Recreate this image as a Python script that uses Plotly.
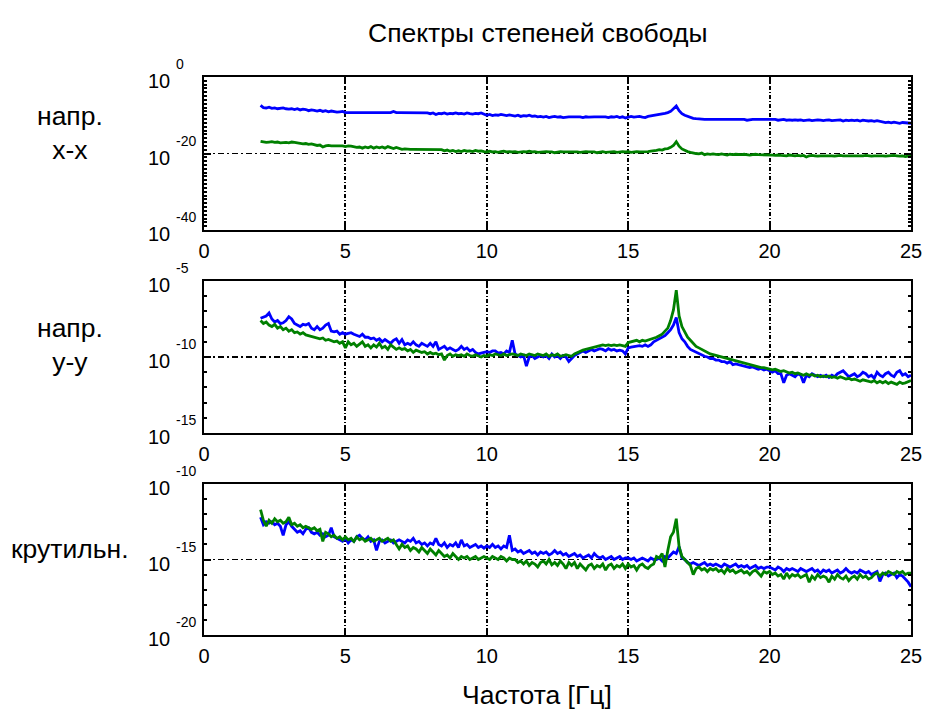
import numpy as np
import plotly.graph_objects as go
from plotly.subplots import make_subplots

# frequency grid [Hz]
freq = [round(2.0 + 0.1 * i, 1) for i in range(231)]

# log10 of spectral values
top_blue = [
    -7.4, -8.0, -8.1, -7.9, -8.2, -8.1, -8.3, -8.2, -8.1, -8.3,
    -8.4, -8.3, -8.5, -8.3, -8.6, -8.4, -8.5, -8.8, -8.6, -8.7,
    -8.9, -8.7, -9.0, -8.8, -9.1, -8.9, -9.0, -9.2, -9.1, -9.0,
    -9.3, -9.3, -9.2, -9.3, -9.3, -9.2, -9.3, -9.3, -9.3, -9.2,
    -9.3, -9.3, -9.3, -9.3, -9.3, -9.3, -9.3, -9.0, -9.3, -9.3,
    -9.3, -9.3, -9.3, -9.4, -9.4, -9.4, -9.4, -9.4, -9.4, -9.4,
    -9.6, -9.4, -9.8, -9.5, -9.6, -9.4, -9.7, -9.5, -9.6, -9.4,
    -9.6, -9.5, -9.7, -9.4, -9.6, -9.7, -9.5, -9.6, -9.4, -9.6,
    -10.0, -9.8, -10.1, -9.9, -10.0, -9.8, -10.0, -10.1, -9.9, -10.0,
    -10.2, -10.0, -10.3, -10.1, -10.2, -10.0, -10.3, -10.2, -10.4, -10.3,
    -10.5, -10.3, -10.6, -10.4, -10.3, -10.5, -10.4, -10.6, -10.4, -10.4,
    -10.4, -10.4, -10.4, -10.4, -10.6, -10.4, -10.5, -10.4, -10.4, -10.4,
    -10.4, -10.5, -10.4, -10.6, -10.4, -10.5, -10.3, -10.6, -10.4, -10.7,
    -10.5, -10.3, -10.5, -10.4, -10.3, -10.5, -10.6, -10.3, -10.2, -10.1,
    -10.0, -9.8, -9.7, -9.5, -9.3, -9.0, -8.3, -7.6, -8.8, -9.6,
    -10.0, -10.3, -10.6, -10.8, -10.9, -11.0, -11.1, -11.1, -11.1, -11.1,
    -11.1, -11.1, -11.1, -11.1, -11.1, -11.1, -11.1, -11.1, -11.1, -11.1,
    -11.1, -11.1, -11.3, -11.1, -11.1, -11.1, -11.1, -11.1, -11.1, -11.1,
    -11.1, -11.2, -11.1, -11.3, -11.2, -11.1, -11.3, -11.2, -11.3, -11.2,
    -11.3, -11.2, -11.4, -11.3, -11.2, -11.4, -11.3, -11.2, -11.3, -11.4,
    -11.3, -11.2, -11.4, -11.3, -11.3, -11.2, -11.5, -11.3, -11.4, -11.3,
    -11.4, -11.3, -11.5, -11.3, -11.4, -11.5, -11.4, -11.6, -11.4, -11.6,
    -11.7, -11.9, -11.8, -12.0, -11.8, -11.9, -12.1, -11.9, -12.0, -12.1,
    -12.1,
]
top_green = [
    -16.8, -17.0, -17.1, -17.0, -16.9, -17.1, -17.0, -17.2, -17.1, -17.1,
    -17.2, -17.0, -17.1, -17.3, -17.3, -17.5, -17.4, -17.6, -17.5, -17.7,
    -17.9, -17.8, -18.3, -18.0, -17.9, -18.0, -18.0, -18.1, -18.0, -18.0,
    -18.2, -18.0, -18.1, -18.2, -18.4, -18.3, -18.6, -18.3, -18.5, -18.2,
    -18.6, -18.3, -18.5, -18.3, -18.6, -18.2, -18.5, -18.7, -18.4, -18.6,
    -18.9, -18.8, -18.9, -18.9, -18.9, -18.9, -18.9, -18.9, -18.9, -18.9,
    -18.9, -18.9, -18.9, -19.0, -19.0, -19.3, -19.1, -19.4, -19.2, -19.5,
    -19.3, -19.5, -19.2, -19.4, -19.3, -19.5, -19.2, -19.4, -19.3, -19.5,
    -19.6, -19.4, -19.6, -19.5, -19.7, -19.5, -19.4, -19.6, -19.5, -19.6,
    -19.5, -19.7, -19.6, -19.5, -19.6, -19.4, -19.6, -19.5, -19.7, -19.6,
    -19.6, -19.5, -19.6, -19.6, -19.8, -19.6, -19.5, -19.6, -19.6, -19.5,
    -19.6, -19.6, -19.6, -19.7, -19.6, -19.5, -19.6, -19.6, -19.6, -19.8,
    -19.6, -19.5, -19.7, -19.6, -19.6, -19.5, -19.7, -19.6, -19.5, -19.6,
    -19.5, -19.7, -19.6, -19.5, -19.6, -19.6, -19.5, -19.5, -19.4, -19.2,
    -19.2, -19.0, -19.1, -18.8, -18.7, -18.4, -17.9, -16.9, -18.1, -18.8,
    -19.2, -19.5, -19.7, -19.9, -20.0, -20.1, -19.9, -20.3, -20.1, -20.2,
    -20.1, -20.2, -20.3, -20.1, -20.2, -20.4, -20.2, -20.3, -20.2, -20.3,
    -20.3, -20.2, -20.3, -20.4, -20.3, -20.2, -20.3, -20.3, -20.4, -20.3,
    -20.4, -20.4, -20.5, -20.4, -20.5, -20.5, -20.6, -20.4, -20.5, -20.6,
    -20.5, -20.6, -20.5, -20.9, -20.6, -20.5, -20.6, -20.7, -20.6, -20.6,
    -20.6, -20.5, -20.6, -20.7, -20.6, -20.5, -20.6, -20.6, -20.7, -20.6,
    -20.6, -20.7, -20.6, -20.6, -20.5, -20.6, -20.7, -20.6, -20.6, -20.5,
    -20.6, -20.7, -20.6, -20.6, -20.5, -20.6, -20.7, -20.6, -20.8, -20.7,
    -20.7,
]
mid_blue = [
    -7.45, -7.4, -7.3, -7.1, -7.5, -7.7, -7.6, -7.8, -7.75, -7.6,
    -7.35, -7.5, -7.8, -7.9, -8.0, -7.85, -7.9, -7.8, -8.1, -8.2,
    -8.0, -8.2, -8.1, -7.9, -7.8, -8.3, -8.35, -8.3, -8.5, -8.4,
    -8.5, -8.45, -8.4, -8.5, -8.6, -8.65, -8.5, -8.7, -8.7, -8.8,
    -8.75, -8.9, -8.8, -9.0, -8.85, -8.95, -9.1, -8.9, -8.8, -9.1,
    -8.85, -9.2, -9.1, -9.2, -9.0, -9.2, -9.3, -9.1, -9.2, -9.3,
    -9.1, -9.3, -9.0, -9.5, -9.4, -9.3, -9.5, -9.4, -9.5, -9.6,
    -9.5, -9.3, -9.5, -9.4, -9.6, -9.5, -9.7, -9.8, -9.75, -9.7,
    -9.65, -9.7, -9.6, -9.6, -9.75, -9.7, -9.8, -9.6, -9.7, -8.9,
    -9.8, -9.9, -10.0, -9.9, -10.6, -10.0, -9.9, -10.1, -10.0, -9.9,
    -10.0, -9.9, -10.1, -9.8, -10.0, -9.9, -10.1, -9.9, -10.0, -10.3,
    -10.1, -9.9, -9.8, -9.7, -9.6, -9.7, -9.6, -9.5, -9.6, -9.5,
    -9.45, -9.5, -9.6, -9.45, -9.55, -9.5, -9.6, -9.55, -9.6, -9.8,
    -9.4, -9.35, -9.3, -9.3, -9.25, -9.3, -9.2, -9.3, -9.2, -9.0,
    -8.9, -8.8, -8.7, -8.6, -8.4, -8.2, -7.9, -7.4, -8.4, -8.8,
    -9.0, -9.3, -9.5, -9.6, -9.7, -9.8, -9.9, -9.95, -10.0, -10.1,
    -10.1, -10.2, -10.2, -10.3, -10.3, -10.4, -10.3, -10.5, -10.45, -10.5,
    -10.55, -10.6, -10.6, -10.7, -10.65, -10.7, -10.8, -10.75, -10.85, -10.8,
    -10.9, -11.0, -10.9, -11.1, -11.1, -11.7, -11.2, -11.1, -11.2, -11.3,
    -11.1, -11.2, -11.7, -11.2, -11.3, -11.1, -11.2, -11.3, -11.2, -11.3,
    -11.2, -11.35, -11.2, -11.3, -11.1, -11.0, -10.9, -11.1, -11.3, -11.2,
    -11.1, -11.3, -11.2, -11.0, -11.1, -11.3, -11.2, -11.4, -11.0, -11.2,
    -11.3, -11.1, -11.0, -11.2, -11.3, -11.0, -10.9, -11.2, -11.1, -11.3,
    -11.2,
]
mid_green = [
    -7.6, -7.8, -7.7, -7.9, -8.0, -7.85, -8.1, -8.0, -8.2, -8.1,
    -8.3, -8.2, -8.4, -8.35, -8.5, -8.4, -8.55, -8.6, -8.65, -8.7,
    -8.7, -8.8, -8.75, -8.9, -8.85, -8.9, -9.0, -8.95, -9.1, -9.0,
    -9.4, -9.0, -9.2, -9.1, -9.3, -9.15, -9.0, -9.3, -9.2, -9.4,
    -9.2, -9.35, -9.1, -9.4, -9.3, -9.5, -9.2, -9.35, -9.5, -9.4,
    -9.5, -9.45, -9.6, -9.5, -9.7, -9.55, -9.6, -9.7, -9.65, -9.8,
    -9.7, -9.8, -9.75, -9.85, -9.8, -10.2, -9.9, -9.8, -9.95, -9.85,
    -9.9, -9.85, -9.95, -9.8, -9.9, -9.95, -9.85, -9.9, -10.0, -9.9,
    -9.95, -9.85, -9.9, -9.8, -9.85, -9.9, -9.8, -9.9, -9.85, -9.8,
    -9.85, -9.9, -9.8, -9.85, -9.9, -9.8, -9.85, -9.9, -9.8, -9.85,
    -9.9, -9.8, -9.95, -9.85, -9.9, -9.8, -9.95, -9.9, -9.85, -9.9,
    -9.95, -9.8, -9.7, -9.6, -9.55, -9.5, -9.45, -9.4, -9.35, -9.3,
    -9.25, -9.2, -9.25, -9.2, -9.25, -9.2, -9.25, -9.2, -9.25, -9.3,
    -9.05, -9.0, -8.95, -8.9, -9.0, -8.9, -8.95, -8.9, -8.8, -8.75,
    -8.7, -8.6, -8.5, -8.3, -8.1, -7.6, -6.9, -5.6, -7.3, -8.0,
    -8.4, -8.7, -8.9, -9.1, -9.3, -9.4, -9.5, -9.6, -9.75, -9.8,
    -9.85, -9.9, -9.95, -10.0, -10.1, -10.15, -10.2, -10.25, -10.3, -10.35,
    -10.4, -10.45, -10.5, -10.5, -10.55, -10.6, -10.65, -10.7, -10.7, -10.75,
    -10.8, -10.85, -10.8, -10.9, -10.95, -10.9, -11.0, -11.05, -11.0, -11.1,
    -11.05, -11.1, -11.2, -11.1, -11.2, -11.15, -11.25, -11.2, -11.3, -11.25,
    -11.3, -11.25, -11.35, -11.3, -11.4, -11.3, -11.35, -11.45, -11.4, -11.5,
    -11.45, -11.5, -11.6, -11.5, -11.55, -11.6, -11.65, -11.55, -11.7, -11.6,
    -11.7, -11.6, -11.75, -11.65, -11.7, -11.8, -11.65, -11.75, -11.7, -11.6,
    -11.55,
]
bot_blue = [
    -12.2, -12.7, -12.5, -12.6, -12.5, -12.7, -12.6, -12.8, -13.4, -12.7,
    -12.5, -12.8, -13.0, -13.2, -13.1, -13.3, -13.0, -12.9, -13.2, -13.3,
    -13.2, -13.4, -13.3, -13.5, -13.4, -12.9, -13.5, -13.6, -13.7, -13.8,
    -13.6, -13.9, -13.7, -13.8, -13.5, -13.4, -13.6, -13.7, -13.5, -13.8,
    -13.7, -14.4, -13.8, -13.7, -13.9, -13.8, -13.7, -13.9, -13.8, -13.7,
    -13.8, -13.9, -13.7, -13.8, -13.6, -13.9, -13.8, -14.0, -13.9, -14.1,
    -13.9, -14.0, -13.6, -14.0, -14.1, -13.9, -14.2, -14.0, -14.1, -13.9,
    -14.2, -13.7, -14.1, -14.0, -14.2, -14.1, -14.0, -14.2, -14.1, -14.25,
    -14.1, -14.2, -14.0, -14.2, -14.1, -14.3, -14.1, -14.2, -13.4, -14.4,
    -14.3, -14.5, -14.4, -14.6, -14.5, -14.4, -14.6, -14.5, -14.7, -14.5,
    -14.6, -14.5, -14.7, -14.6, -14.4, -14.6, -14.5, -14.7, -14.6, -14.8,
    -14.7, -14.6, -14.8, -14.7, -14.9, -14.8, -14.7, -14.9, -14.6, -14.8,
    -14.9, -14.8, -15.0, -14.9, -14.8, -15.0, -14.9, -14.8, -15.0, -14.9,
    -14.9, -15.0, -14.9, -15.1, -15.0, -14.9, -15.0, -15.1, -14.9, -15.0,
    -15.0, -14.9, -15.1, -14.8, -14.9, -14.7, -14.5, -14.6, -14.15, -14.9,
    -15.0, -15.2, -15.3, -15.2, -15.3, -15.4, -15.3, -15.2, -15.4, -15.3,
    -15.4, -15.3, -15.4, -15.5, -15.3, -15.4, -15.5, -15.4, -15.3, -15.5,
    -15.4, -15.5, -15.4, -15.6, -15.5, -15.4, -15.6, -15.5, -15.6, -15.5,
    -15.5, -15.6, -15.7, -15.5, -15.6, -15.8, -15.6, -15.7, -15.6, -15.7,
    -15.8, -15.6, -15.7, -15.8, -15.7, -15.6, -15.8, -15.7, -15.9, -15.7,
    -15.8, -15.7, -15.9, -15.8, -15.7, -15.9, -15.8, -15.6, -15.8, -15.9,
    -15.8, -15.9, -15.7, -15.8, -15.9, -15.8, -16.0, -15.9, -15.8, -16.45,
    -16.0, -15.9, -16.1, -16.0, -15.9, -16.2, -16.0, -16.1, -16.3, -16.5,
    -16.8,
]
bot_green = [
    -11.7, -12.4, -12.8, -12.4, -12.6, -12.3, -12.5, -12.4, -12.6, -12.5,
    -12.2, -12.7, -12.6, -12.8, -12.7, -12.9, -12.8, -12.9, -13.0, -12.9,
    -13.1, -13.0, -13.8, -13.2, -13.3, -13.5, -13.4, -13.6, -13.5, -13.7,
    -13.5, -13.7, -13.6, -13.8, -13.5, -13.7, -13.6, -13.8, -13.7, -13.6,
    -13.8, -13.7, -13.6, -13.8, -13.7, -13.6, -13.8, -13.7, -14.0, -14.3,
    -14.0, -14.2, -14.1, -14.4, -14.2, -14.3, -14.5, -14.2, -14.4, -14.6,
    -14.3, -14.5, -14.7, -14.4, -14.6, -14.8, -14.7, -14.9, -14.6, -14.8,
    -15.0, -14.8, -14.9, -14.8, -15.0, -14.9, -14.8, -15.0, -14.9, -14.8,
    -14.9, -15.0, -14.8, -14.9, -15.0, -14.8, -14.9, -15.1, -14.9, -15.0,
    -15.0, -15.2, -15.1, -15.3, -15.1, -15.4, -15.2, -15.3, -15.5, -15.2,
    -15.1, -15.3, -15.0, -15.35, -15.2, -15.4, -15.1, -15.3, -15.6, -15.2,
    -15.4, -15.2, -15.6, -15.3, -15.5, -15.7, -15.4, -15.3, -15.6, -15.4,
    -15.5, -15.3, -15.7, -15.4, -15.3, -15.6, -15.4, -15.5, -15.3, -15.6,
    -15.3, -15.5, -15.4, -15.7, -15.4, -15.3, -15.5, -15.6, -15.4, -15.3,
    -14.8, -14.9, -14.6, -15.5, -14.4, -13.5, -13.2, -12.3, -14.15, -14.8,
    -15.0, -15.2, -15.4, -16.0, -15.6, -15.5, -15.7, -15.6, -15.8, -15.6,
    -15.7, -15.6, -15.8, -15.7, -15.9, -15.6, -15.8, -15.7, -15.9, -15.8,
    -15.7, -15.9, -15.8, -16.0, -15.8, -15.7, -15.9, -16.1, -15.8, -15.9,
    -15.8, -16.0, -15.9, -16.1, -16.0, -16.3, -15.9, -16.2, -16.0, -16.1,
    -16.0, -16.2, -16.1, -16.0, -16.5, -16.1, -16.3, -16.0, -16.2, -16.1,
    -16.2, -16.5, -16.1, -16.3, -16.0, -16.2, -16.3, -16.1, -16.4, -16.2,
    -16.1, -16.3, -16.0, -16.2, -16.1, -16.3, -16.2, -16.0, -15.9, -16.1,
    -15.9, -16.0, -15.8, -15.9, -16.0, -15.8, -15.9, -15.8, -16.0, -15.9,
    -15.9,
]

x_ticks = [0, 5, 10, 15, 20, 25]
y_tick_exps = [[0, -20, -40], [-5, -10, -15], [-10, -15, -20]]
row_labels = ["напр.<br>x-x", "напр.<br>y-y", "крутильн."]
title_text = "Спектры степеней свободы"
x_title = "Частота [Гц]"

series = [(top_blue, top_green), (mid_blue, mid_green), (bot_blue, bot_green)]
BLUE = "#0000ff"
GREEN = "#008000"
FONT = "Arial, 'Liberation Sans', sans-serif"

W, H = 926, 711
ML, MT = 204, 77
PW, PH = 707, 558
MR = W - ML - PW
MB = H - MT - PH


def py(y_ref):
    """reference pixel row -> paper y"""
    return (MT + PH - y_ref) / PH


def px(x_ref):
    """reference pixel column -> paper x"""
    return (x_ref - ML) / PW


domains = [[py(230), py(77)], [py(433), py(281)], [py(635), py(484)]]
domains = [[max(0.0, a), min(1.0, b)] for a, b in domains]

fig = make_subplots(rows=3, cols=1)

for i, (b, g) in enumerate(series):
    r = i + 1
    fig.add_trace(go.Scatter(x=freq, y=[10 ** v for v in b], mode="lines",
                             line=dict(color=BLUE, width=2.8), showlegend=False), row=r, col=1)
    fig.add_trace(go.Scatter(x=freq, y=[10 ** v for v in g], mode="lines",
                             line=dict(color=GREEN, width=2.8), showlegend=False), row=r, col=1)
    exps = y_tick_exps[i]
    hi, lo = max(exps), min(exps)
    fig.update_xaxes(row=r, col=1, range=[0, 25], tickvals=x_ticks,
                     showgrid=True, gridcolor="black", griddash="4px,2px,1px,2px", gridwidth=1.8,
                     ticks="inside", ticklen=6, tickwidth=2, tickcolor="black",
                     showline=True, linewidth=2, linecolor="black", mirror="allticks",
                     tickfont=dict(family=FONT, size=20, color="black"),
                     ticklabelstandoff=2, zeroline=False, domain=[0, 1], automargin=False)
    fig.update_yaxes(row=r, col=1, type="log", range=[lo, hi],
                     tickvals=[10 ** e for e in exps], showticklabels=False,
                     showgrid=True, gridcolor="black", griddash="6px,3px,2px,3px",
                     gridwidth=1.6 if i == 1 else 1,
                     ticks="inside", ticklen=7, tickwidth=2, tickcolor="black",
                     showline=True, linewidth=2, linecolor="black", mirror="allticks",
                     minor=dict(tickvals=[10 ** k for k in range(lo, hi + 1)],
                                ticks="inside", ticklen=3, tickcolor="black", showgrid=False),
                     zeroline=False, domain=domains[i], automargin=False)

annotations = []
yrefs = ["y", "y2", "y3"]
for i, exps in enumerate(y_tick_exps):
    for e in exps:
        annotations.append(dict(xref="paper", yref=yrefs[i], x=px(172), y=e,
                                text="10", showarrow=False, xanchor="right", yanchor="middle",
                                yshift=-4, font=dict(family=FONT, size=20, color="black")))
        annotations.append(dict(xref="paper", yref=yrefs[i], x=px(174), y=e,
                                text=str(e), showarrow=False, xanchor="left", yanchor="middle",
                                yshift=13, font=dict(family=FONT, size=14, color="black")))

label_y_px = [133, 345, 549]
for i, lab in enumerate(row_labels):
    annotations.append(dict(xref="paper", yref="paper", x=px(70), y=py(label_y_px[i]),
                            text=lab, showarrow=False, xanchor="center", yanchor="middle",
                            align="center", font=dict(family=FONT, size=26.5, color="black")))
annotations.append(dict(xref="paper", yref="paper", x=px(537), y=py(33), text=title_text,
                        showarrow=False, xanchor="center", yanchor="middle",
                        font=dict(family=FONT, size=26.5, color="black")))
annotations.append(dict(xref="paper", yref="paper", x=px(537), y=py(695), text=x_title,
                        showarrow=False, xanchor="center", yanchor="middle",
                        font=dict(family=FONT, size=26.5, color="black")))

fig.update_layout(width=W, height=H, margin=dict(l=ML, r=MR, t=MT, b=MB, autoexpand=False),
                  paper_bgcolor="white", plot_bgcolor="white",
                  annotations=annotations, showlegend=False)

# remove the browser's default 8px page margin so the 926x711 figure fills the window exactly
fig.write_html("out.html", config={"displayModeBar": False},
               post_script="document.body.style.margin='0';document.body.style.overflow='hidden';")
